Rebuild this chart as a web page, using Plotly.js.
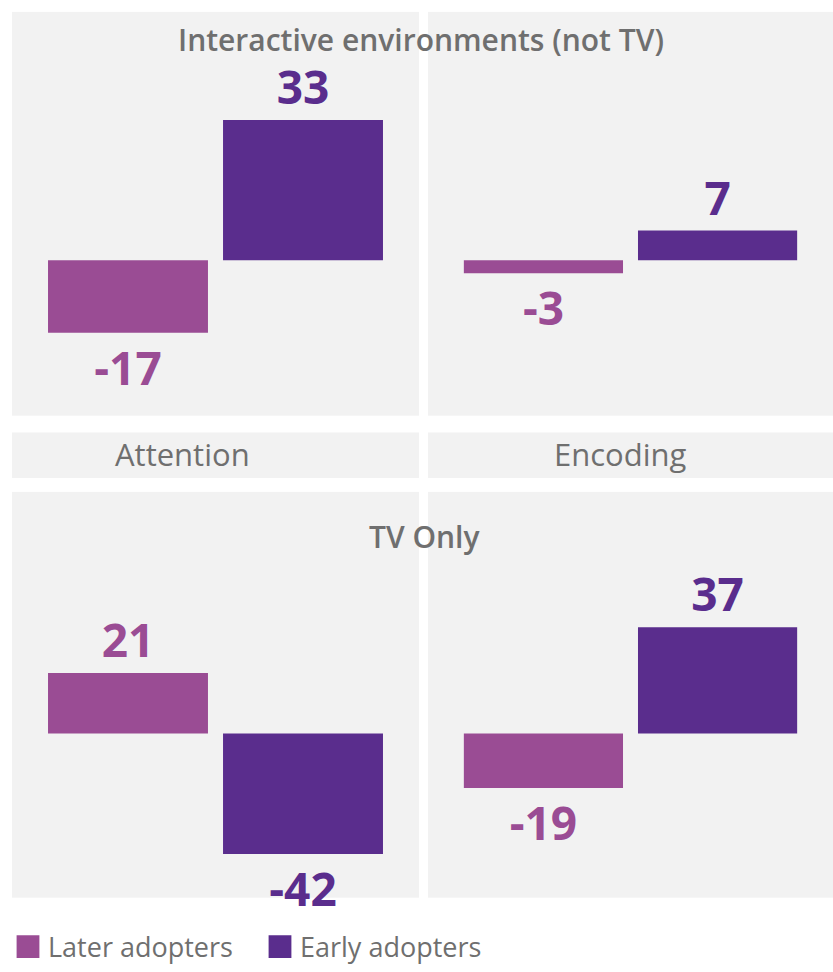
<!DOCTYPE html>
<html>
<head>
<meta charset="utf-8">
<script src="https://cdn.plot.ly/plotly-3.0.1.min.js"></script>
<style>html,body{margin:0;padding:0;background:#fff;}#chart{width:833px;height:972px;}</style>
</head>
<body>
<div id="chart"></div>
<script>
// ---- data ----
const measures = ["Attention", "Encoding"];
const groups = ["Interactive environments (not TV)", "TV Only"];
const seriesNames = ["Later adopters", "Early adopters"];
const laterInteractive = [-17, -3];
const earlyInteractive = [33, 7];
const laterTV = [21, -19];
const earlyTV = [-42, 37];

const colLater = "#9a4c94";
const colEarly = "#5a2d8d";
const gray = "#6f6f6f";
const font = "Open Sans, Noto Sans, sans-serif";

const traces = [];
const valueSets = [[laterInteractive, earlyInteractive], [laterTV, earlyTV]];
let idx = 0;
for (let r = 0; r < 2; r++) {
  for (let c = 0; c < 2; c++) {
    idx++;
    const xa = idx === 1 ? "x" : "x" + idx;
    const ya = idx === 1 ? "y" : "y" + idx;
    for (let s = 0; s < 2; s++) {
      const v = valueSets[r][s][c];
      traces.push({
        type: "bar",
        name: seriesNames[s],
        legendgroup: seriesNames[s],
        showlegend: idx === 1,
        x: [measures[c]],
        y: [v],
        text: [String(v)],
        texttemplate: "%{text}",
        textposition: "outside",
        constraintext: "none",
        cliponaxis: false,
        textfont: {family: font, size: 46, weight: 700, color: s === 0 ? colLater : colEarly},
        marker: {color: s === 0 ? colLater : colEarly},
        xaxis: xa, yaxis: ya,
        hoverinfo: "skip"
      });
    }
  }
}

const W = 833, H = 972;
const px = v => v / W;
const py = v => 1 - v / H;
const leftDom = [px(12), px(419)];
const rightDom = [px(428), 1];
const topDom = [py(420), py(12)];
const botDom = [py(907), py(497)];

function ax(extra) {
  return Object.assign({showgrid: false, zeroline: false, showticklabels: false, ticks: "", showline: false, fixedrange: true}, extra);
}
const topRange = [-36.5, 58.4];
const botRange = [-57.2, 84.1];

const layout = {
  width: W, height: H,
  margin: {l: 0, r: 0, t: 0, b: 0},
  paper_bgcolor: "#ffffff",
  plot_bgcolor: "#f2f2f2",
  barmode: "group",
  bargap: 0.14,
  bargroupgap: 0.086,
  font: {family: font, color: gray},
  xaxis: ax({domain: leftDom, anchor: "y"}),
  yaxis: ax({domain: topDom, anchor: "x", range: topRange}),
  xaxis2: ax({domain: rightDom, anchor: "y2"}),
  yaxis2: ax({domain: topDom, anchor: "x2", range: topRange}),
  xaxis3: ax({domain: leftDom, anchor: "y3"}),
  yaxis3: ax({domain: botDom, anchor: "x3", range: botRange}),
  xaxis4: ax({domain: rightDom, anchor: "y4"}),
  yaxis4: ax({domain: botDom, anchor: "x4", range: botRange}),
  shapes: [
    {type: "rect", xref: "paper", yref: "paper", x0: leftDom[0], x1: leftDom[1], y0: py(483), y1: py(437), fillcolor: "#f2f2f2", line: {width: 0}, layer: "below"},
    {type: "rect", xref: "paper", yref: "paper", x0: rightDom[0], x1: rightDom[1], y0: py(483), y1: py(437), fillcolor: "#f2f2f2", line: {width: 0}, layer: "below"}
  ],
  annotations: [
    {text: groups[0], xref: "paper", yref: "paper", x: px(421), y: py(40), xanchor: "center", yanchor: "middle", showarrow: false, font: {family: font, size: 30, weight: 600, color: gray}},
    {text: groups[1], xref: "paper", yref: "paper", x: px(424), y: py(542), xanchor: "center", yanchor: "middle", showarrow: false, font: {family: font, size: 30, weight: 600, color: gray}},
    {text: measures[0], xref: "paper", yref: "paper", x: px(182), y: py(459), xanchor: "center", yanchor: "middle", showarrow: false, font: {family: font, size: 31, color: gray}},
    {text: measures[1], xref: "paper", yref: "paper", x: px(620), y: py(459), xanchor: "center", yanchor: "middle", showarrow: false, font: {family: font, size: 31, color: gray}}
  ],
  legend: {orientation: "h", x: px(8), xanchor: "left", y: py(957), yanchor: "middle", font: {family: font, size: 27, color: gray}, bgcolor: "rgba(0,0,0,0)", traceorder: "normal", entrywidth: 207, entrywidthmode: "pixels"},
  showlegend: true
};

Plotly.newPlot("chart", traces, layout, {displayModeBar: false, staticPlot: true}).then(function (gd) {
  gd.querySelectorAll(".legend .legendpoints path").forEach(function (p) {
    const t = p.getAttribute("transform") || "";
    p.setAttribute("transform", t + " scale(1.9)");
  });
});
</script>
</body>
</html>
